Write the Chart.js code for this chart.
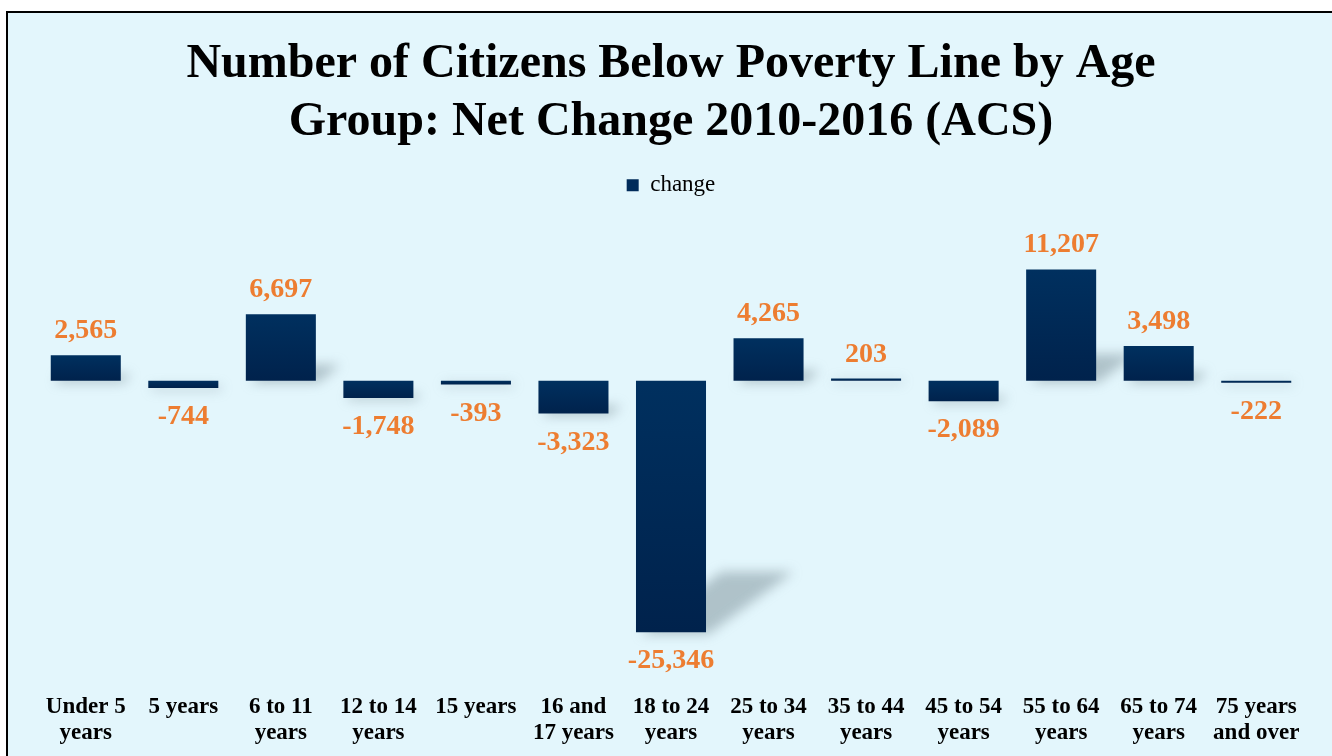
<!DOCTYPE html>
<html>
<head>
<meta charset="utf-8">
<script src="https://cdn.jsdelivr.net/npm/chart.js@4/dist/chart.umd.min.js"></script>
<style>
  html, body { margin: 0; padding: 0; background: #fff; }
  #wrap { width: 1332px; height: 756px; }
  canvas { display: block; }
</style>
</head>
<body>
<div id="wrap"><canvas id="povertyChart" width="1332" height="756"></canvas></div>
<script>
// Net change 2010-2016 by age group
const ageGroups = [
    ['Under 5', 'years'], ['5 years'], ['6 to 11', 'years'], ['12 to 14', 'years'],
    ['15 years'], ['16 and', '17 years'], ['18 to 24', 'years'], ['25 to 34', 'years'],
    ['35 to 44', 'years'], ['45 to 54', 'years'], ['55 to 64', 'years'], ['65 to 74', 'years'],
    ['75 years', 'and over']
];
const changeValues = [2565, -744, 6697, -1748, -393, -3323, -25346, 4265, 203, -2089, 11207, 3498, -222];

const bgColor = '#E3F6FC';
const labelColor = '#ED7D31';
const serif = '"Liberation Serif", "Times New Roman", serif';

// background + frame lines
const framePlugin = {
    id: 'frame',
    beforeDraw(chart) {
        const ctx = chart.ctx;
        ctx.save();
        ctx.fillStyle = '#ffffff';
        ctx.fillRect(0, 0, chart.width, chart.height);
        ctx.fillStyle = bgColor;
        ctx.fillRect(7, 11, chart.width - 7, chart.height - 11);
        ctx.strokeStyle = '#000';
        ctx.lineWidth = 2;
        ctx.beginPath();
        ctx.moveTo(7, chart.height);
        ctx.lineTo(7, 12);
        ctx.lineTo(chart.width, 12);
        ctx.stroke();
        ctx.restore();
    }
};

// soft perspective shadow behind each bar
const shadowPlugin = {
    id: 'barShadow',
    beforeDatasetsDraw(chart) {
        const ctx = chart.ctx;
        const meta = chart.getDatasetMeta(0);
        ctx.save();
        ctx.filter = 'blur(6px)';
        ctx.fillStyle = 'rgba(110, 130, 140, 0.45)';
        meta.data.forEach(bar => {
            const left = bar.x - bar.width / 2;
            const right = bar.x + bar.width / 2;
            const bottom = Math.max(bar.y, bar.base);
            const top = Math.min(bar.y, bar.base);
            const h = bottom - top;
            const sh = h * 0.24;
            const shift = h * 0.34;
            ctx.beginPath();
            ctx.moveTo(left + 4, bottom + 2);
            ctx.lineTo(right + 2, bottom + 2);
            ctx.lineTo(right + shift + 2, bottom - sh);
            ctx.lineTo(left + shift, bottom - sh);
            ctx.closePath();
            ctx.fill();
        });
        ctx.restore();
    }
};

// orange value labels above / below bars
const valueLabelPlugin = {
    id: 'valueLabels',
    afterDatasetsDraw(chart) {
        const ctx = chart.ctx;
        const meta = chart.getDatasetMeta(0);
        ctx.save();
        ctx.font = 'bold 28px ' + serif;
        ctx.fillStyle = labelColor;
        ctx.textAlign = 'center';
        ctx.textBaseline = 'alphabetic';
        meta.data.forEach((bar, i) => {
            const v = changeValues[i];
            const text = v.toLocaleString('en-US');
            const top = Math.min(bar.y, bar.base);
            const bottom = Math.max(bar.y, bar.base);
            const y = v >= 0 ? top - 17 : bottom + 36;
            ctx.fillText(text, bar.x, y);
        });
        ctx.restore();
    }
};

function barGradient(context) {
    const chart = context.chart;
    if (!chart.chartArea || context.dataIndex === undefined) return '#002B5A';
    const y = chart.scales.y;
    const v = context.raw;
    const p1 = y.getPixelForValue(v);
    const p0 = y.getPixelForValue(0);
    const t = Math.min(p0, p1), b = Math.max(p0, p1);
    if (b - t < 1) return '#002B5A';
    const g = chart.ctx.createLinearGradient(0, t, 0, b);
    g.addColorStop(0, '#00305F');
    g.addColorStop(1, '#00224C');
    return g;
}

const ctxPoverty = document.getElementById('povertyChart').getContext('2d');
const povertyChart = new Chart(ctxPoverty, {
    type: 'bar',
    data: {
        labels: ageGroups,
        datasets: [{
            label: 'change',
            data: changeValues,
            backgroundColor: barGradient,
            borderWidth: 0,
            barPercentage: 0.718,
            categoryPercentage: 1.0
        }]
    },
    options: {
        responsive: false,
        animation: false,
        layout: {
            padding: { top: 10, left: 37, right: 27, bottom: -11 }
        },
        scales: {
            x: {
                grid: { display: false, drawTicks: false },
                border: { display: false },
                ticks: {
                    color: '#000',
                    padding: 20,
                    maxRotation: 0,
                    autoSkip: false,
                    font: { family: serif, size: 23, weight: 'bold', lineHeight: 1.17 }
                }
            },
            y: {
                display: false,
                min: -29483,
                max: 17528
            }
        },
        plugins: {
            title: {
                display: true,
                text: ['Number of Citizens Below Poverty Line by Age', 'Group: Net Change 2010-2016 (ACS)'],
                color: '#000',
                padding: { top: 26, bottom: 12.5 },
                font: { family: serif, size: 48, weight: 'bold', lineHeight: 1.2 }
            },
            legend: {
                display: true,
                labels: {
                    boxWidth: 12,
                    boxHeight: 12,
                    color: '#1a1a1a',
                    padding: 10,
                    font: { family: serif, size: 23 },
                    generateLabels: function(chart) {
                        return [{
                            text: 'change',
                            fillStyle: '#002B5A',
                            strokeStyle: '#002B5A',
                            lineWidth: 0,
                            datasetIndex: 0
                        }];
                    }
                }
            },
            tooltip: { enabled: false }
        }
    },
    plugins: [framePlugin, shadowPlugin, valueLabelPlugin]
});
</script>
</body>
</html>
